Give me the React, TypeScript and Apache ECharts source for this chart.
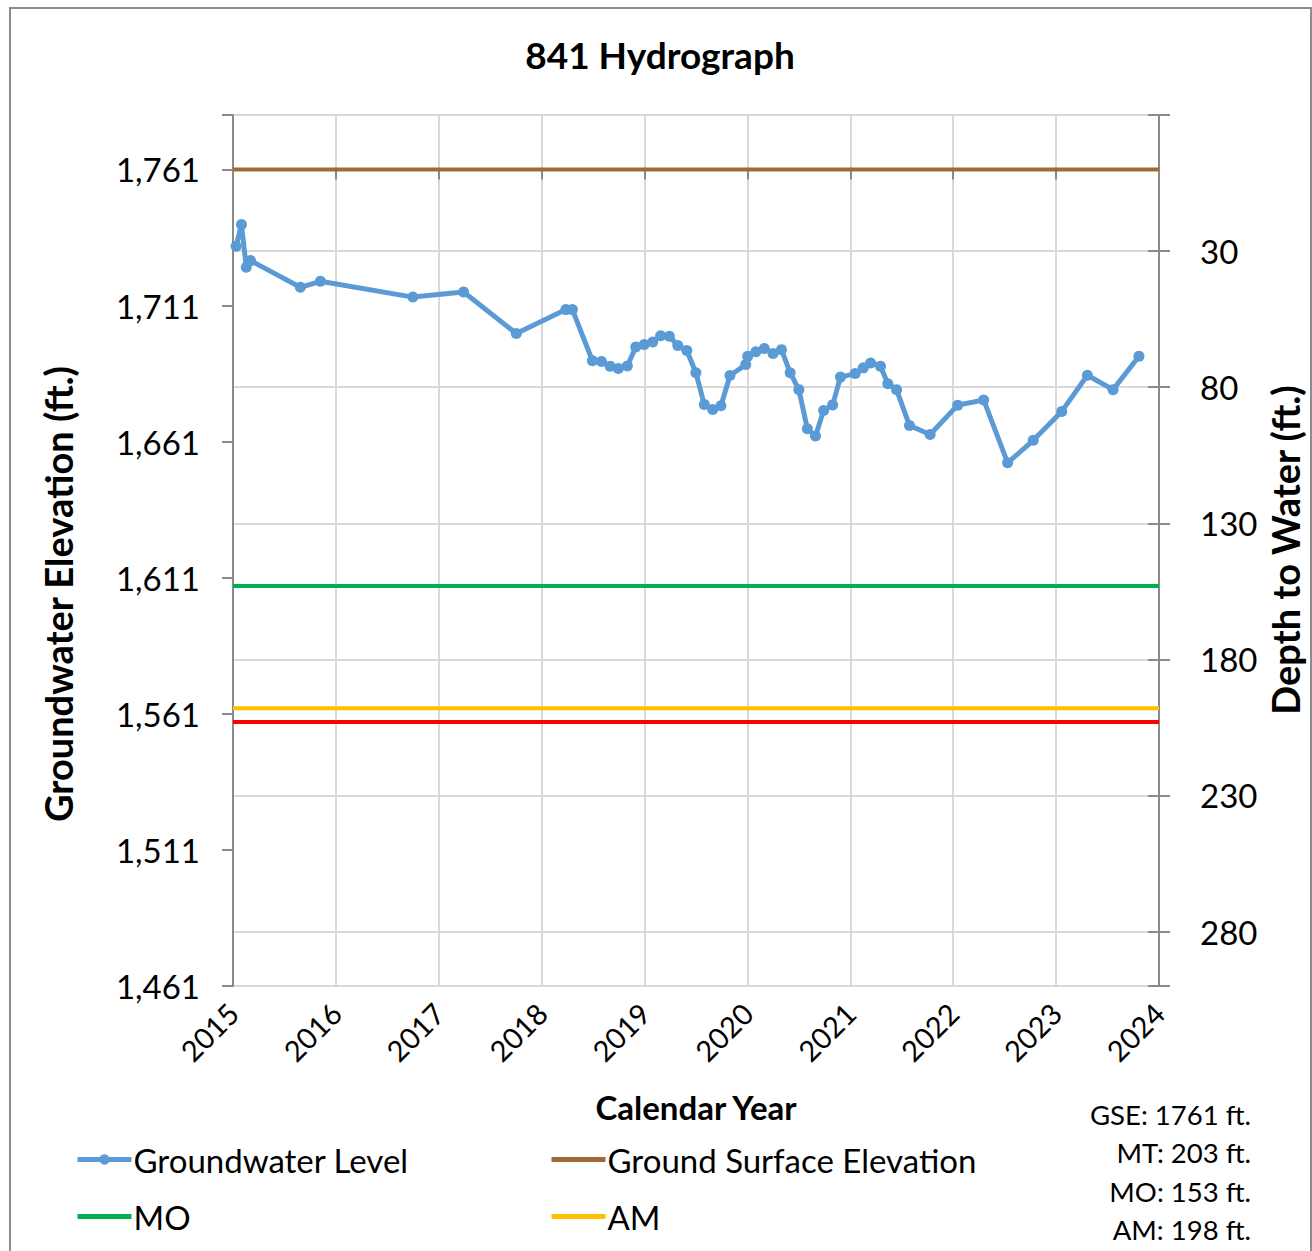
import React, { useEffect, useRef } from "react";
import * as echarts from "echarts";

// ---- Data ----
const TITLE = "841 Hydrograph";
const MEASURE_DATES = [
  "2015-01-12", "2015-01-31", "2015-02-17", "2015-03-04", "2015-08-28", "2015-11-07",
  "2016-10-01", "2017-03-30", "2017-10-03", "2018-03-28", "2018-04-20", "2018-06-30",
  "2018-08-01", "2018-09-01", "2018-09-30", "2018-11-01", "2018-12-01", "2018-12-31",
  "2019-01-30", "2019-02-27", "2019-03-30", "2019-04-29", "2019-05-31", "2019-07-02",
  "2019-08-01", "2019-08-31", "2019-09-29", "2019-10-31", "2019-12-26", "2020-01-02",
  "2020-01-31", "2020-03-01", "2020-04-01", "2020-05-01", "2020-06-01", "2020-07-02",
  "2020-08-01", "2020-08-30", "2020-09-28", "2020-10-30", "2020-11-27", "2021-01-18",
  "2021-02-16", "2021-03-14", "2021-04-18", "2021-05-14", "2021-06-14", "2021-07-30",
  "2021-10-11", "2022-01-17", "2022-04-19", "2022-07-13", "2022-10-12", "2023-01-21",
  "2023-04-22", "2023-07-22", "2023-10-22",
];
const GW_ELEVATION = [
  1732.8, 1740.8, 1725.1, 1727.5, 1717.7, 1719.9,
  1714.1, 1716.0, 1700.7, 1709.5, 1709.5, 1690.7,
  1690.4, 1688.7, 1687.9, 1688.8, 1695.8, 1696.7,
  1697.6, 1699.9, 1699.7, 1696.3, 1694.5, 1686.3,
  1674.6, 1672.8, 1674.2, 1685.3, 1689.3, 1692.4,
  1694.0, 1695.2, 1693.4, 1694.8, 1686.3, 1680.1,
  1665.7, 1663.1, 1672.4, 1674.5, 1684.7, 1686.0,
  1688.1, 1689.9, 1688.7, 1682.3, 1680.1, 1666.9,
  1663.6, 1674.4, 1676.3, 1653.2, 1661.5, 1672.1,
  1685.4, 1680.1, 1692.4,
];
const GSE = 1761; // ground surface elevation, ft
const MT_DEPTH = 203;
const MO_DEPTH = 153;
const AM_DEPTH = 198;
const YEAR_RANGE = [2015, 2024];
const ELEV_RANGE = [1461, 1781];
const ELEV_TICK = 50;
const DEPTH_RANGE = [GSE - ELEV_RANGE[1], GSE - ELEV_RANGE[0]]; // -20 .. 300
const DEPTH_LABEL_MAX = 280;
const ANNOTATIONS = [
  `GSE: ${GSE} ft.`,
  `MT: ${MT_DEPTH} ft.`,
  `MO: ${MO_DEPTH} ft.`,
  `AM: ${AM_DEPTH} ft.`,
];

function toYear(d: string): number {
  const [y, m, dd] = d.split("-").map(Number);
  const start = Date.UTC(y, 0, 1);
  const end = Date.UTC(y + 1, 0, 1);
  return y + (Date.UTC(y, m - 1, dd) - start) / (end - start);
}

const FONT = "Lato, 'Open Sans', 'DejaVu Sans', sans-serif";
const AXIS_GRAY = "#8a8a8a";
const GRID_GRAY = "#d9d9d9";

export default function App() {
  const ref = useRef<HTMLDivElement>(null);
  useEffect(() => {
    document.body.style.margin = "0";
    if (!ref.current) return;
    const chart = echarts.init(ref.current, null, { renderer: "svg" });

    const gwData = MEASURE_DATES.map((d, i) => [toYear(d), GW_ELEVATION[i]]);
    const flat = (v: number) => [
      [YEAR_RANGE[0], v],
      [YEAR_RANGE[1], v],
    ];

    const refLine = (name: string, value: number, color: string) => ({
      name,
      type: "line",
      xAxisIndex: 0,
      yAxisIndex: 0,
      data: flat(value),
      symbol: "none",
      lineStyle: { color, width: 4 },
      itemStyle: { color },
      silent: true,
    });

    const legendText = { fontFamily: FONT, fontSize: 33, color: "#000", padding: [0, 0, 0, -3] };
    const noDot = { itemStyle: { opacity: 0 } };
    const legendBase = {
      top: 1138,
      orient: "vertical",
      itemWidth: 54,
      itemHeight: 13,
      itemGap: 24,
      textStyle: legendText,
      lineStyle: { width: 5 },
      selectedMode: false,
    };

    chart.setOption({
      animation: false,
      backgroundColor: "#fff",
      textStyle: { fontFamily: FONT },
      grid: { left: 233, right: 153, top: 115, bottom: 265, containLabel: false },
      xAxis: {
        type: "value",
        min: YEAR_RANGE[0],
        max: YEAR_RANGE[1],
        interval: 1,
        axisLine: { show: true, lineStyle: { color: AXIS_GRAY, width: 2 } },
        axisTick: { show: true, length: 10, lineStyle: { color: AXIS_GRAY, width: 2 } },
        splitLine: { show: true, lineStyle: { color: GRID_GRAY, width: 2 } },
        axisLabel: {
          rotate: 45,
          fontSize: 29,
          color: "#000",
          fontFamily: FONT,
          margin: 22,
          formatter: (v: number) => String(Math.round(v)),
        },
      },
      yAxis: [
        {
          type: "value",
          position: "left",
          min: ELEV_RANGE[0],
          max: ELEV_RANGE[1],
          interval: ELEV_TICK,
          axisLine: { show: true, lineStyle: { color: AXIS_GRAY, width: 2 } },
          axisTick: { show: true, length: 11, lineStyle: { color: AXIS_GRAY, width: 2 } },
          splitLine: { show: false },
          axisLabel: {
            fontSize: 33,
            color: "#000",
            fontFamily: FONT,
            margin: 33,
            formatter: (v: number) =>
              v > GSE ? "" : v.toLocaleString("en-US"),
          },
        },
        {
          type: "value",
          position: "right",
          inverse: true,
          min: DEPTH_RANGE[0],
          max: DEPTH_RANGE[1],
          interval: ELEV_TICK,
          axisLine: { show: true, lineStyle: { color: AXIS_GRAY, width: 2 } },
          axisTick: { show: true, length: 11, lineStyle: { color: AXIS_GRAY, width: 2 } },
          splitLine: { show: true, lineStyle: { color: GRID_GRAY, width: 2 } },
          axisLabel: {
            fontSize: 33,
            color: "#000",
            fontFamily: FONT,
            margin: 41,
            formatter: (v: number) =>
              v < 0 || v > DEPTH_LABEL_MAX ? "" : String(v),
          },
        },
        {
          type: "value",
          position: "right",
          inverse: true,
          min: DEPTH_RANGE[0],
          max: DEPTH_RANGE[1],
          interval: ELEV_TICK,
          axisLine: { show: false },
          axisTick: { show: true, inside: true, length: 11, lineStyle: { color: AXIS_GRAY, width: 2 } },
          splitLine: { show: false },
          axisLabel: { show: false },
        },
      ],
      legend: [
        {
          ...legendBase,
          left: 70,
          data: [{ name: "Groundwater Level" }, { name: "MO", ...noDot }],
        },
        {
          ...legendBase,
          left: 544,
          data: [
            { name: "Ground Surface Elevation", ...noDot },
            { name: "AM", ...noDot },
          ],
        },
      ],
      series: [
        refLine("Ground Surface Elevation", GSE, "#a0693a"),
        refLine("MO", GSE - MO_DEPTH, "#00b050"),
        refLine("AM", GSE - AM_DEPTH, "#ffc000"),
        refLine("MT", GSE - MT_DEPTH, "#ff0000"),
        {
          name: "Groundwater Level",
          type: "line",
          data: gwData,
          symbol: "circle",
          symbolSize: 11,
          showSymbol: true,
          lineStyle: { color: "#5b9bd5", width: 5 },
          itemStyle: { color: "#5b9bd5" },
          z: 5,
        },
      ],
      graphic: [
        {
          type: "rect",
          shape: { x: 10, y: 8, width: 1301, height: 1260 },
          style: { fill: "none", stroke: "#8c8c8c", lineWidth: 2 },
          silent: true,
          z: -1,
        },
        {
          type: "text",
          x: 660,
          y: 54,
          style: {
            text: TITLE,
            font: `bold 37px ${FONT}`,
            fill: "#000",
            textAlign: "center",
            textVerticalAlign: "middle",
          },
        },
        {
          type: "text",
          x: 58,
          y: 594,
          rotation: Math.PI / 2,
          style: {
            text: "Groundwater Elevation (ft.)",
            font: `bold 38px ${FONT}`,
            fill: "#000",
            textAlign: "center",
            textVerticalAlign: "middle",
          },
        },
        {
          type: "text",
          x: 1285,
          y: 550,
          rotation: Math.PI / 2,
          style: {
            text: "Depth to Water (ft.)",
            font: `bold 38px ${FONT}`,
            fill: "#000",
            textAlign: "center",
            textVerticalAlign: "middle",
          },
        },
        {
          type: "text",
          x: 696,
          y: 1107,
          style: {
            text: "Calendar Year",
            font: `bold 33px ${FONT}`,
            fill: "#000",
            textAlign: "center",
            textVerticalAlign: "middle",
          },
        },
        ...ANNOTATIONS.map((t, i) => ({
          type: "text",
          x: 1251,
          y: 1114 + i * 38.5,
          style: {
            text: t,
            font: `27.5px ${FONT}`,
            fill: "#000",
            textAlign: "right",
            textVerticalAlign: "middle",
          },
        })),
      ],
    });
    return () => chart.dispose();
  }, []);
  return <div ref={ref} style={{ width: 1312, height: 1251 }} />;
}
